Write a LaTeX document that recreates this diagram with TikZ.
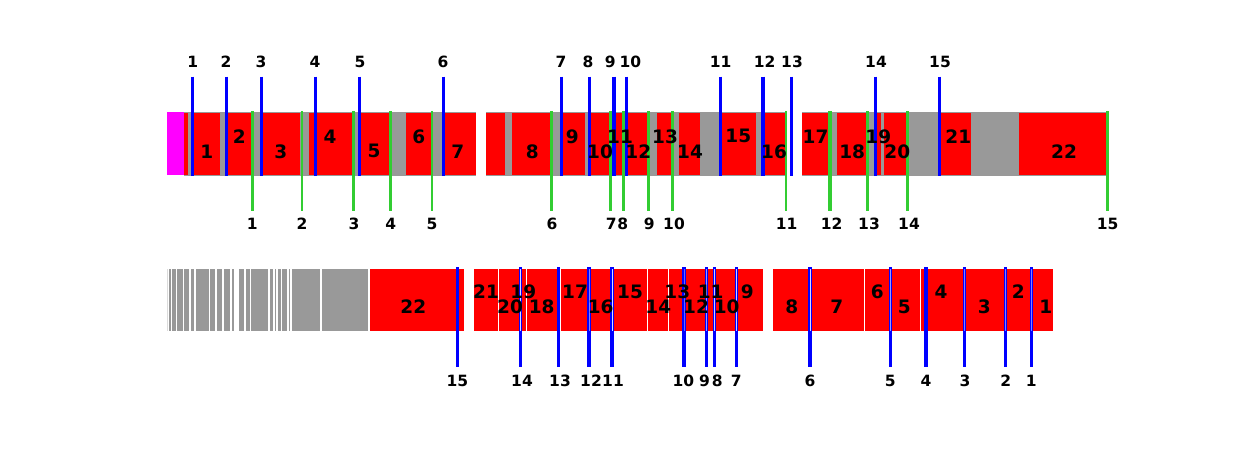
\documentclass[tikz,border=0pt]{standalone}
\usepackage{fontspec}
\setmainfont{DejaVu Sans}
\definecolor{segred}{RGB}{255,0,0}
\definecolor{seggray}{RGB}{153,153,153}
\definecolor{segmag}{RGB}{255,0,255}
\definecolor{lnblue}{RGB}{0,0,255}
\definecolor{lngreen}{RGB}{50,205,50}
\tikzset{
  ticklbl/.style={font=\fontsize{15.5}{16}\selectfont\bfseries, inner sep=0pt, anchor=center},
  barlbl/.style={font=\fontsize{18.5}{19}\selectfont\bfseries, inner sep=0pt, anchor=center},
  blueln/.style={draw=lnblue, line width=3pt},
  greenln/.style={draw=lngreen, line width=2.8pt},
  sepln/.style={draw=white, line width=0.9pt},
}
\begin{document}
\begin{tikzpicture}[x=1pt,y=-1pt]
\useasboundingbox[fill=white] (0,0) rectangle (1233,460);

% ---------- top row ----------
\fill[seggray] (184,111.5) rectangle (475.7,176);
\fill[seggray] (485.7,111.5) rectangle (785,176);
\fill[seggray] (802.3,111.5) rectangle (1106,176);
\fill[segmag] (167.3,112) rectangle (184,175);
\foreach \a/\b in {184/188.3, 194/220, 228/251, 262/300, 309/353, 361/390, 406/432, 444/475.7,
  485.7/505, 512.3/551, 562/585, 590/649, 657/671, 679.3/700, 721/756, 764.5/785,
  802.3/828.5, 836.7/866.7, 876.5/880.7, 884.3/908, 940.5/971, 1019.3/1106}
  \fill[segred] (\a,112.5) rectangle (\b,175);

% blue lines (top)
\foreach \i/\x/\w in {1/192.7/3, 2/226.3/3, 3/261/3, 4/315/3, 5/359.7/3, 6/443/3,
  7/561/3, 8/589/3, 9/613.7/3.6, 10/626.3/3.4, 11/720.3/3, 12/762.7/4.2, 13/791.3/3,
  14/875.3/3, 15/939.7/3}
  \draw[blueln, line width=\w pt] (\x,76.7) -- (\x,176);

% green lines
\foreach \i/\x/\w in {1/252.3/2.8, 2/302/2.8, 3/353.3/2.8, 4/390.7/2.8, 5/432/2.8, 6/551.7/2.8,
  7/610.7/2.8, 8/623.3/2.8, 9/648.7/2.8, 10/672.7/3.3, 11/786/2.8, 12/830/3.6, 13/867.7/2.8,
  14/907.7/2.8, 15/1107.7/2.8}
  \draw[greenln, line width=\w pt] (\x,111) -- (\x,210.7);

% top tick labels
\foreach \t/\x in {1/192.7, 2/226, 3/261, 4/315, 5/360, 6/443, 7/561, 8/588, 9/610.3, 10/630.3,
  11/720.7, 12/764.7, 13/792, 14/876, 15/940}
  \node[ticklbl] (tt\t) at (\x,62) {\t};

% green tick labels
\foreach \t/\x in {1/252.3, 2/302, 3/354, 4/390.7, 5/432, 6/552, 7/611.2, 8/622.8, 9/649.3,
  10/674, 11/786.7, 12/831.7, 13/869, 14/909, 15/1107.7}
  \node[ticklbl] (gt\t) at (\x,224) {\t};

% top bar labels
\foreach \t/\x/\y in {1/206.7/151.3, 2/239.3/136.3, 3/280.7/151.3, 4/330/136.3, 5/374/151.3,
  6/418.7/136.3, 7/457.7/151.3, 8/532.3/151.3, 9/572.3/136.3, 10/600/151.3, 11/620/136.3,
  12/638.3/151.3, 13/665/136.3, 14/690/151.3, 15/738.3/136.3, 16/774/151.3, 17/815.5/136.3,
  18/852.2/151.3, 19/878.3/136.3, 20/897.3/151.3, 21/958.3/136.3, 22/1064/151.3}
  \node[barlbl] (tb\t) at (\x,\y) {\t};

% ---------- bottom row ----------
\fill[seggray, opacity=0.35] (167.3,269.3) rectangle (168,330.7);
\foreach \a/\b in {169/170.7, 172.3/175.7, 177.3/182.7, 184.3/189.3, 190.7/194, 195.7/208.7,
  210.3/215.3, 217/222.3, 223.7/230.3, 231.7/234, 239/244.3, 246/249.7, 251.3/268.3,
  269.7/273, 274.7/276.3, 277.7/281, 282.3/287.3, 288.7/290, 291.7/320, 321.7/368}
  \fill[seggray] (\a,269.3) rectangle (\b,330.7);
\fill[segred] (370,269.3) rectangle (464,330.7);
\fill[segred] (474,269.3) rectangle (763.3,330.7);
\fill[segred] (773.3,269.3) rectangle (1053.3,330.7);
\foreach \x in {498.3, 526, 560.4, 647.5, 668.3, 864.3, 920.3}
  \draw[sepln] (\x,269.3) -- (\x,330.7);

% blue lines (bottom): x / width / centre opacity
\foreach \i/\x/\w/\o in {15/457.3/3/0, 14/520.7/3.2/0.85, 13/558.7/3.2/0, 12/589/4.2/0.5,
  11/612/3.2/0.85, 10/684/4.2/0.4, 9/706.5/3.6/0.6, 8/714.7/3.2/0.8, 7/736.3/3.2/0.8, 6/810/3.2/0.85,
  5/890.3/3.2/0.6, 4/926/3.2/0, 3/964.3/3.2/0.5, 2/1005.7/3.2/0.5, 1/1031.3/3.2/0.5}
{
  \draw[blueln, line width=\w pt] (\x,267.3) -- (\x,366.7);
  \draw[draw=white, line width=0.9pt, opacity=\o] (\x,269.3) -- (\x,330.7);
}

% bottom tick labels
\foreach \t/\x in {15/457.3, 14/522, 13/560, 12/591, 11/613, 10/683.3, 9/704.5, 8/717.3,
  7/736.3, 6/810, 5/890.3, 4/926, 3/965, 2/1005.7, 1/1031.3}
  \node[ticklbl] (bt\t) at (\x,380.5) {\t};

% bottom bar labels
\foreach \t/\x/\y in {22/413.3/306.8, 21/486/291.7, 20/510/306.8, 19/523.3/291.7, 18/541.7/306.8,
  17/575/291.7, 16/600.7/306.8, 15/630/291.7, 14/658.3/306.8, 13/677.3/291.7, 12/696/306.8,
  11/710.7/291.7, 10/726.7/306.8, 9/747.3/291.7, 8/791.7/306.8, 7/836.7/306.8, 6/877.3/291.7,
  5/904.3/306.8, 4/941/291.7, 3/984.3/306.8, 2/1018.3/291.7, 1/1045.7/306.8}
  \node[barlbl] (bb\t) at (\x,\y) {\t};
\end{tikzpicture}
\end{document}
